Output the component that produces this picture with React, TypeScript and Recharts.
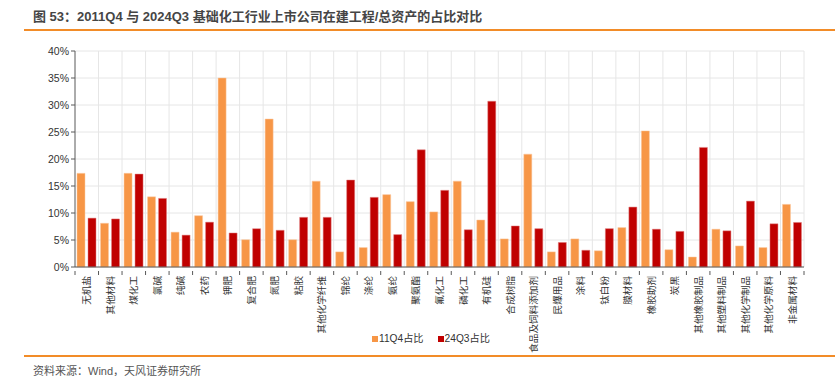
import React from 'react';
import { BarChart, Bar, XAxis, YAxis, CartesianGrid } from 'recharts';

const categories = ['无机盐','其他材料','煤化工','氯碱','纯碱','农药','钾肥','复合肥','氮肥','粘胶','其他化学纤维','锦纶','涤纶','氨纶','聚氨酯','氟化工','磷化工','有机硅','合成树脂','食品及饲料添加剂','民爆用品','涂料','钛白粉','膜材料','橡胶助剂','炭黑','其他橡胶制品','其他塑料制品','其他化学制品','其他化学原料','非金属材料'];
const q2011 = [17.35,8.1,17.35,13.0,6.45,9.5,35.0,5.05,27.4,5.05,15.9,2.8,3.6,13.4,12.1,10.2,15.9,8.7,5.2,20.9,2.8,5.2,3.0,7.3,25.2,3.2,1.85,7.0,3.9,3.6,11.6];
const q2024 = [9.05,8.9,17.2,12.7,5.9,8.3,6.3,7.1,6.8,9.2,9.2,16.1,12.9,6.0,21.7,14.2,6.9,30.7,7.6,7.1,4.55,3.1,7.1,11.1,7.0,6.6,22.15,6.7,12.2,8.0,8.25];
const yTicks = [0,5,10,15,20,25,30,35,40];
const seriesNames = ['11Q4占比','24Q3占比'];
const seriesColors = ['#F79646','#C00000'];

const data = categories.map((c, i) => ({ name: c, a: q2011[i], b: q2024[i] }));

const FONT = '"Liberation Sans", Arial, "Noto Sans CJK SC", sans-serif';

const XTick = (props: any) => {
  const { x, y, payload, width, visibleTicksCount } = props;
  const band = width / (visibleTicksCount || categories.length);
  return (
    <g>
      <line x1={x - band / 2} x2={x - band / 2} y1={y - 4} y2={y} stroke="#595959" />
      {payload.index === categories.length - 1 && (
        <line x1={x + band / 2} x2={x + band / 2} y1={y - 4} y2={y} stroke="#595959" />
      )}
      <text x={x} y={y} transform={`rotate(-90, ${x}, ${y})`} textAnchor="end" dy={3.5} dx={-1}
        fontSize={9.6} fill="#333" fontFamily={FONT}>{payload.value}</text>
    </g>
  );
};

export default function App() {
  return (
    <div style={{ position: 'absolute', left: 0, top: 0, width: 835, height: 376, background: '#fff', fontFamily: FONT }}>
      <div style={{ position: 'absolute', left: 33, top: 6, fontSize: 13, fontWeight: 'bold', color: '#454545', whiteSpace: 'nowrap' }}>
        图 53：2011Q4 与 2024Q3 基础化工行业上市公司在建工程/总资产的占比对比
      </div>
      <div style={{ position: 'absolute', left: 24, top: 29, width: 811, height: 2, background: '#F28C28' }} />
      <div style={{ position: 'absolute', left: 24, top: 355, width: 811, height: 2, background: '#F28C28' }} />
      <div style={{ position: 'absolute', left: 33, top: 362, fontSize: 11, color: '#555', whiteSpace: 'nowrap' }}>
        资料来源：Wind，天风证券研究所
      </div>
      <div style={{ position: 'absolute', left: 0, top: 0 }}>
        <BarChart width={835} height={376} data={data} barSize={8} barGap={3}
          margin={{ top: 51, right: 31, left: 0, bottom: 21 }}>
          <CartesianGrid stroke="#e6e6e6" strokeWidth={1}
            verticalCoordinatesGenerator={({ offset }: any) => {
              const arr: number[] = [];
              for (let i = 1; i <= categories.length; i++) arr.push(offset.left + (offset.width * i) / categories.length);
              return arr;
            }} />
          <XAxis dataKey="name" interval={0} tickLine={false} axisLine={{ stroke: '#595959' }}
            tick={<XTick />} height={88} />
          <YAxis width={75} domain={[0, 40]} ticks={yTicks} tickFormatter={(v: number) => `${v}%`}
            axisLine={{ stroke: '#595959' }} tickLine={{ stroke: '#595959' }} tickSize={4}
            tick={{ fontSize: 10.5, fill: '#333', fontFamily: FONT }} interval={0} />
          <Bar dataKey="a" name={seriesNames[0]} fill={seriesColors[0]} stroke="#FBC9A0" strokeWidth={0.5} isAnimationActive={false} />
          <Bar dataKey="b" name={seriesNames[1]} fill={seriesColors[1]} stroke="#E08080" strokeWidth={0.5} isAnimationActive={false} />
        </BarChart>
      </div>
      <div style={{ position: 'absolute', top: 332, left: 372, display: 'flex', fontSize: 10.2, lineHeight: '13px', color: '#333', whiteSpace: 'nowrap' }}>
        {seriesNames.map((n, i) => (
          <div key={n} style={{ display: 'flex', alignItems: 'center', marginRight: 14 }}>
            <span style={{ width: 6, height: 6, background: seriesColors[i], marginRight: 1, display: 'inline-block' }} />
            {n}
          </div>
        ))}
      </div>
    </div>
  );
}
